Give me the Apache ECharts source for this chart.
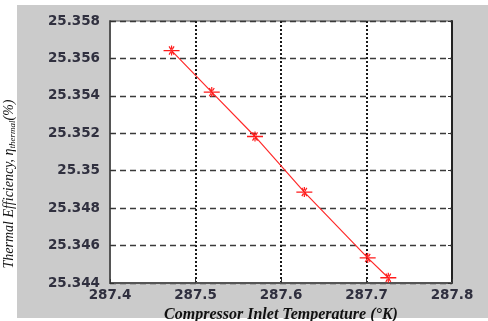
<!DOCTYPE html>
<html>
<head>
<meta charset="utf-8">
<script src="https://cdn.jsdelivr.net/npm/echarts@6/dist/echarts.min.js"></script>
<style>
  html, body { margin: 0; padding: 0; background: #ffffff; }
  #chart { width: 488px; height: 321px; }
</style>
</head>
<body>
<div id="chart"></div>
<script>
// Compressor inlet temperature (K) vs. thermal efficiency (%)
const inletTemp = [287.472, 287.519, 287.5696, 287.6273, 287.7014, 287.7255];
const efficiency = [25.35642, 25.35420, 25.35183, 25.34886, 25.34534, 25.34428];

const xTicks = [287.4, 287.5, 287.6, 287.7, 287.8];
const yTicks = [25.344, 25.346, 25.348, 25.35, 25.352, 25.354, 25.356, 25.358];

const points = inletTemp.map((t, i) => [t, efficiency[i]]);

// asterisk-like marker: wide horizontal stroke with a small star over it
const starPath = 'path://M0 4.4H16V5.6H0Z M7.4 0.5H8.6V9.5H7.4Z ' +
  'M5 1.6L6 1 L11 8.4 L10 9Z M11 1.6 L10 1 L5 8.4 L6 9Z';

const tickFont = {
  color: '#30303f',
  fontFamily: 'DejaVu Sans',
  fontWeight: 'bold',
  fontSize: 13.5
};

const chart = echarts.init(document.getElementById('chart'), null, { renderer: 'canvas' });

chart.setOption({
  backgroundColor: '#ffffff',
  animation: false,
  graphic: [{
    type: 'rect',
    z: -10,
    shape: { x: 17, y: 5, width: 471, height: 313 },
    style: { fill: '#cbcbcb' },
    silent: true
  }],
  grid: {
    left: 110, right: 36, top: 21, bottom: 38,
    outerBoundsMode: 'none',
    containLabel: false,
    show: true,
    backgroundColor: '#ffffff',
    borderColor: '#555555',
    borderWidth: 1
  },
  xAxis: {
    type: 'value',
    min: xTicks[0],
    max: xTicks[xTicks.length - 1],
    interval: 0.1,
    name: 'Compressor Inlet Temperature (°K)',
    nameLocation: 'middle',
    nameGap: 22,
    nameTextStyle: {
      fontFamily: 'Liberation Serif',
      fontStyle: 'italic',
      fontWeight: 'bold',
      fontSize: 16,
      color: '#111111',
      padding: [0, 0, 0, 0]
    },
    axisLine: { show: true, lineStyle: { color: '#555555', width: 2 } },
    axisTick: { show: true, inside: true, length: 4, lineStyle: { color: '#333333' } },
    axisLabel: Object.assign({
      margin: 5,
      formatter: v => String(+v.toFixed(1))
    }, tickFont),
    splitLine: {
      show: true,
      lineStyle: { color: '#1a1a1a', width: 2, type: [2, 2] }
    }
  },
  yAxis: [{
    type: 'value',
    min: yTicks[0],
    max: yTicks[yTicks.length - 1],
    interval: 0.002,
    name: '{t|Thermal Efficiency, η}{s|thermal}{t|(%)}',
    nameLocation: 'middle',
    nameGap: 93,
    nameRotate: 90,
    nameTextStyle: {
      padding: [0, 64, 0, 0],
      rich: {
        t: { fontFamily: 'Liberation Serif', fontStyle: 'italic', fontSize: 14, color: '#111111' },
        s: { fontFamily: 'Liberation Serif', fontStyle: 'italic', fontSize: 9, color: '#111111', verticalAlign: 'bottom', padding: [6, 0, 0, 0] }
      }
    },
    axisLine: { show: true, lineStyle: { color: '#555555', width: 2 } },
    axisTick: { show: true, inside: true, length: 4, lineStyle: { color: '#333333' } },
    axisLabel: Object.assign({
      margin: 10,
      formatter: v => String(+v.toFixed(3))
    }, tickFont),
    splitLine: {
      show: true,
      lineStyle: { color: '#3a3a3a', width: 1.3, type: [6, 4] }
    }
  }, {
    type: 'value',
    position: 'right',
    min: yTicks[0],
    max: yTicks[yTicks.length - 1],
    interval: 0.002,
    axisLine: { show: true, lineStyle: { color: '#222222', width: 2 } },
    axisTick: { show: true, inside: true, length: 4, lineStyle: { color: '#333333' } },
    axisLabel: { show: false },
    splitLine: { show: false }
  }],
  series: [{
    type: 'line',
    data: points,
    yAxisIndex: 0,
    symbol: starPath,
    symbolSize: [16, 10],
    showAllSymbol: true,
    itemStyle: { color: '#ff1a1a' },
    lineStyle: { color: '#ff2a2a', width: 1.2 },
    z: 5
  }]
});
</script>
</body>
</html>
